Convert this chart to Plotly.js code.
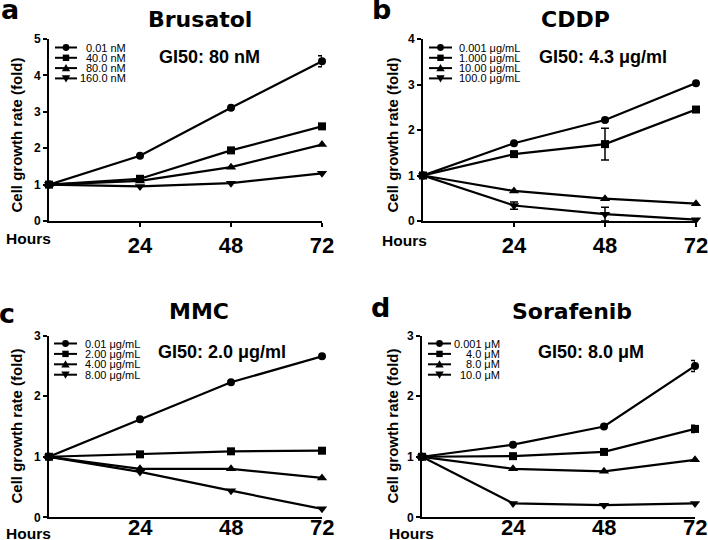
<!DOCTYPE html>
<html>
<head>
<meta charset="utf-8">
<script src="https://cdn.plot.ly/plotly-3.0.1.min.js"></script>
<style>html,body{margin:0;padding:0;background:#fff;}#chart{width:708px;height:540px;}</style>
</head>
<body>
<div id="chart"></div>
<script>
// ---------------- DATA ----------------
const hours = [0, 24, 48, 72];
const hourTickLabels = ['24', '48', '72'];
const hourTicks = [24, 48, 72];

// Panel a: Brusatol
const brusatolTitle = 'Brusatol';
const brusatolGI50 = 'GI50: 80 nM';
const brusatolLabels = ['0.01 nM', '40.0 nM', '80.0 nM', '160.0 nM'];
const brusatol_0_01 = [1, 1.79, 3.11, 4.39];
const brusatol_40 = [1, 1.16, 1.94, 2.60];
const brusatol_80 = [1, 1.10, 1.48, 2.10];
const brusatol_160 = [1, 0.95, 1.04, 1.31];
const brusatolErr_0_01 = [0, 0, 0, 0.15];
const brusatolErr_40 = [0, 0, 0, 0];
const brusatolErr_80 = [0, 0, 0, 0];
const brusatolErr_160 = [0, 0, 0, 0];

// Panel b: CDDP
const cddpTitle = 'CDDP';
const cddpGI50 = 'GI50: 4.3 \u03bcg/ml';
const cddpLabels = ['0.001 \u03bcg/mL', '1.000 \u03bcg/mL', '10.00 \u03bcg/mL', '100.0 \u03bcg/mL'];
const cddp_0_001 = [1, 1.71, 2.22, 3.03];
const cddp_1 = [1, 1.47, 1.69, 2.45];
const cddp_10 = [1, 0.66, 0.49, 0.38];
const cddp_100 = [1, 0.34, 0.15, 0.03];
const cddpErr_0_001 = [0, 0, 0, 0];
const cddpErr_1 = [0, 0, 0.35, 0];
const cddpErr_10 = [0, 0, 0, 0];
const cddpErr_100 = [0, 0.08, 0.15, 0];

// Panel c: MMC
const mmcTitle = 'MMC';
const mmcGI50 = 'GI50: 2.0 \u03bcg/ml';
const mmcLabels = ['0.01 \u03bcg/mL', '2.00 \u03bcg/mL', '4.00 \u03bcg/mL', '8.00 \u03bcg/mL'];
const mmc_0_01 = [1, 1.62, 2.23, 2.66];
const mmc_2 = [1, 1.04, 1.09, 1.10];
const mmc_4 = [1, 0.80, 0.80, 0.65];
const mmc_8 = [1, 0.75, 0.44, 0.14];
const mmcErr_0_01 = [0, 0, 0, 0];
const mmcErr_2 = [0, 0, 0, 0];
const mmcErr_4 = [0, 0, 0, 0];
const mmcErr_8 = [0, 0, 0, 0];

// Panel d: Sorafenib
const sorafenibTitle = 'Sorafenib';
const sorafenibGI50 = 'GI50: 8.0 \u03bcM';
const sorafenibLabels = ['0.001 \u03bcM', '4.0 \u03bcM', '8.0 \u03bcM', '10.0 \u03bcM'];
const sorafenib_0_001 = [1, 1.20, 1.50, 2.50];
const sorafenib_4 = [1, 1.01, 1.08, 1.46];
const sorafenib_8 = [1, 0.80, 0.76, 0.95];
const sorafenib_10 = [1, 0.23, 0.20, 0.23];
const sorafenibErr_0_001 = [0, 0, 0, 0.09];
const sorafenibErr_4 = [0, 0, 0, 0.06];
const sorafenibErr_8 = [0, 0, 0, 0];
const sorafenibErr_10 = [0, 0, 0, 0];

const panelLetters = ['a', 'b', 'c', 'd'];
const yTitle = 'Cell growth rate (fold)';
const xTitle = 'Hours';

// ---------------- LAYOUT HELPERS ----------------
const W = 708, H = 540;
const px = v => v / W;
const py = v => 1 - v / H;

const symbols = ['circle', 'square', 'triangle-up', 'triangle-down'];

const panels = [
  { title: brusatolTitle, gi50: brusatolGI50, labels: brusatolLabels,
    series: [brusatol_0_01, brusatol_40, brusatol_80, brusatol_160],
    errs: [brusatolErr_0_01, brusatolErr_40, brusatolErr_80, brusatolErr_160],
    ymax: 5, box: {l: 49, r: 322, t: 39, b: 221}, tightLabels: false,
    titlePos: [200, 19], gi50Pos: [209, 57], letterPos: [10, 10], yTitlePos: [15.5, 135], hoursPos: [29, 238],
    leg: {lx0: 55, lx1: 77, top: 47.5, step: 10.3, textX: 128, anchor: 'right'} },
  { title: cddpTitle, gi50: cddpGI50, labels: cddpLabels,
    series: [cddp_0_001, cddp_1, cddp_10, cddp_100],
    errs: [cddpErr_0_001, cddpErr_1, cddpErr_10, cddpErr_100],
    ymax: 4, box: {l: 423, r: 696, t: 39, b: 221}, tightLabels: false,
    titlePos: [575, 20], gi50Pos: [603, 57], letterPos: [381, 9], yTitlePos: [391.5, 135], hoursPos: [404, 240],
    leg: {lx0: 429, lx1: 452, top: 47.5, step: 10.3, textX: 457, anchor: 'left'} },
  { title: mmcTitle, gi50: mmcGI50, labels: mmcLabels,
    series: [mmc_0_01, mmc_2, mmc_4, mmc_8],
    errs: [mmcErr_0_01, mmcErr_2, mmcErr_4, mmcErr_8],
    ymax: 3, box: {l: 49, r: 322, t: 335.7, b: 517.3}, tightLabels: true,
    titlePos: [199, 312], gi50Pos: [222, 352], letterPos: [7, 313], yTitlePos: [15.5, 426], hoursPos: [29, 533],
    leg: {lx0: 54, lx1: 77, top: 343.5, step: 10.4, textX: 83, anchor: 'left'} },
  { title: sorafenibTitle, gi50: sorafenibGI50, labels: sorafenibLabels,
    series: [sorafenib_0_001, sorafenib_4, sorafenib_8, sorafenib_10],
    errs: [sorafenibErr_0_001, sorafenibErr_4, sorafenibErr_8, sorafenibErr_10],
    ymax: 3, box: {l: 422, r: 695, t: 335.7, b: 517.3}, tightLabels: true,
    titlePos: [572, 312], gi50Pos: [591, 352], letterPos: [380, 307], yTitlePos: [391.5, 426], hoursPos: [411, 533],
    leg: {lx0: 428, lx1: 451, top: 343.5, step: 10.4, textX: 502, anchor: 'right'} }
];

const traces = [];
const annotations = [];
const shapes = [];
const layout = {
  width: W, height: H,
  margin: {l: 0, r: 0, t: 0, b: 0},
  paper_bgcolor: '#ffffff', plot_bgcolor: '#ffffff',
  showlegend: false,
  font: {family: 'Liberation Sans, Arial, sans-serif', color: '#000'}
};

const boldArial = size => ({family: 'Liberation Sans, Arial, sans-serif', size: size, color: '#000', weight: 'bold'});
const boldDejaVu = size => ({family: 'DejaVu Sans, sans-serif', size: size, color: '#000', weight: 'bold'});

function legendMarker(sym, cx, cy) {
  const common = {xref: 'paper', yref: 'paper', fillcolor: '#000', line: {color: '#000', width: 0}, layer: 'above'};
  const r = 3.4;
  if (sym === 'circle') {
    return Object.assign({type: 'circle', x0: px(cx - r), x1: px(cx + r), y0: py(cy + r), y1: py(cy - r)}, common);
  }
  if (sym === 'square') {
    return Object.assign({type: 'rect', x0: px(cx - 3.2), x1: px(cx + 3.2), y0: py(cy + 3.2), y1: py(cy - 3.2)}, common);
  }
  let pts;
  if (sym === 'triangle-up') {
    pts = [[cx - 4.2, cy + 3.2], [cx + 4.2, cy + 3.2], [cx, cy - 4]];
  } else {
    pts = [[cx - 4.2, cy - 3.2], [cx + 4.2, cy - 3.2], [cx, cy + 4]];
  }
  const path = 'M' + pts.map(p => px(p[0]) + ',' + py(p[1])).join(' L') + ' Z';
  return Object.assign({type: 'path', path: path}, common);
}

panels.forEach((p, i) => {
  const n = i === 0 ? '' : String(i + 1);
  const xa = 'xaxis' + n, ya = 'yaxis' + n;
  layout[xa] = {
    domain: [px(p.box.l), px(p.box.r)], anchor: 'y' + n,
    range: [0, 72], tickvals: hourTicks, ticktext: hourTickLabels,
    showticklabels: !p.tightLabels,
    tickfont: boldArial(22), ticks: p.tightLabels ? '' : 'outside', ticklen: 4, tickwidth: 2, tickcolor: '#000',
    ticklabeloverflow: 'allow',
    showline: true, linewidth: 2, linecolor: '#000', showgrid: false, zeroline: false, fixedrange: true
  };
  if (p.tightLabels) {
    // tick labels placed tight under the axis line (as in the reference), positioned by the x scale
    hourTicks.forEach((t, j) => {
      annotations.push({xref: 'x' + n, yref: 'paper', x: t, y: py(p.box.b + 10.5), xanchor: 'center', yanchor: 'middle',
        text: hourTickLabels[j], showarrow: false, font: boldArial(22)});
    });
  }
  const yt = [];
  for (let v = 0; v <= p.ymax; v++) yt.push(v);
  layout[ya] = {
    domain: [py(p.box.b), py(p.box.t)], anchor: 'x' + n,
    range: [0, p.ymax], tickvals: yt, ticklabeloverflow: 'allow',
    tickfont: boldArial(12), ticks: 'outside', ticklen: 4, tickwidth: 2, tickcolor: '#000',
    showline: true, linewidth: 2, linecolor: '#000', showgrid: false, zeroline: false, fixedrange: true
  };
  p.series.forEach((s, k) => {
    const hasErr = p.errs[k].some(e => e > 0);
    traces.push({
      type: 'scatter', mode: 'lines+markers', x: hours, y: s,
      xaxis: 'x' + n, yaxis: 'y' + n, name: p.labels[k], cliponaxis: false,
      line: {color: '#000', width: 2.2},
      marker: {symbol: symbols[k], size: k >= 2 ? 9 : 8, color: '#000'},
      error_y: {type: 'data', array: p.errs[k], visible: hasErr, color: '#000', thickness: 1.5, width: 4}
    });
    // legend entry
    const cy = p.leg.top + k * p.leg.step;
    shapes.push({type: 'line', xref: 'paper', yref: 'paper', x0: px(p.leg.lx0), x1: px(p.leg.lx1), y0: py(cy), y1: py(cy), line: {color: '#000', width: 2}});
    shapes.push(legendMarker(symbols[k], (p.leg.lx0 + p.leg.lx1) / 2, cy));
    annotations.push({xref: 'paper', yref: 'paper', x: px(p.leg.textX), y: py(cy), xanchor: p.leg.anchor, yanchor: 'middle',
      text: p.labels[k], showarrow: false, font: {family: 'Liberation Sans, Arial, sans-serif', size: 11, color: '#000'}});
  });
  annotations.push({xref: 'paper', yref: 'paper', x: px(p.titlePos[0]), y: py(p.titlePos[1]), xanchor: 'center', yanchor: 'middle',
    text: p.title, showarrow: false, font: boldDejaVu(22)});
  annotations.push({xref: 'paper', yref: 'paper', x: px(p.gi50Pos[0]), y: py(p.gi50Pos[1]), xanchor: 'center', yanchor: 'middle',
    text: p.gi50, showarrow: false, font: boldArial(18)});
  annotations.push({xref: 'paper', yref: 'paper', x: px(p.letterPos[0]), y: py(p.letterPos[1]), xanchor: 'center', yanchor: 'middle',
    text: panelLetters[i], showarrow: false, font: boldDejaVu(27)});
  annotations.push({xref: 'paper', yref: 'paper', x: px(p.yTitlePos[0]), y: py(p.yTitlePos[1]), xanchor: 'center', yanchor: 'middle',
    text: yTitle, textangle: -90, showarrow: false, font: boldArial(15)});
  annotations.push({xref: 'paper', yref: 'paper', x: px(p.hoursPos[0]), y: py(p.hoursPos[1]), xanchor: 'center', yanchor: 'middle',
    text: xTitle, showarrow: false, font: boldArial(15.5)});
});

layout.annotations = annotations;
layout.shapes = shapes;

Plotly.newPlot('chart', traces, layout, {displayModeBar: false, staticPlot: true});
</script>
</body>
</html>
